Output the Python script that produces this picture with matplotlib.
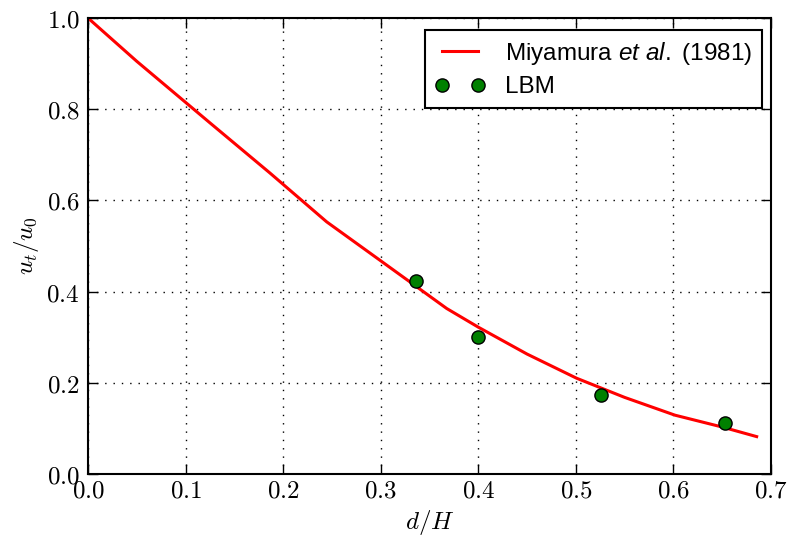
import matplotlib
matplotlib.use('Agg')
import matplotlib.pyplot as plt
from matplotlib.ticker import FuncFormatter

# Miyamura et al. (1981) curve
miyamura_x = [0.0, 0.05, 0.1, 0.125, 0.1865, 0.2446, 0.301, 0.3676, 0.4, 0.45, 0.5008, 0.55, 0.6016, 0.65, 0.6853]
miyamura_y = [1.0, 0.905, 0.815, 0.77, 0.66, 0.553, 0.466, 0.363, 0.322, 0.263, 0.21, 0.168, 0.129, 0.103, 0.082]

# LBM results
lbm_x = [0.336, 0.400, 0.5254, 0.653]
lbm_y = [0.423, 0.300, 0.173, 0.112]

plt.rcParams['font.family'] = ['Liberation Sans', 'DejaVu Sans']
plt.rcParams['mathtext.fontset'] = 'cm'
plt.rcParams['mathtext.rm'] = 'Liberation Sans'
plt.rcParams['mathtext.it'] = 'Liberation Sans:italic'

fig = plt.figure(figsize=(7.94, 5.42), dpi=100)
ax = fig.add_axes([88 / 794, 1 - 474 / 542, 683 / 794, 456 / 542])

ax.plot(miyamura_x, miyamura_y, color='red', lw=2.2, label=r'Miyamura $\mathit{et\ al.}$ (1981)')
ax.plot(lbm_x, lbm_y, 'o', color='green', mec='black', mew=1.0, ms=9.5, label='LBM')

ax.set_xlim(0, 0.7)
ax.set_ylim(0, 1.0)
ax.set_xticks([0.0, 0.1, 0.2, 0.3, 0.4, 0.5, 0.6, 0.7])
ax.set_yticks([0.0, 0.2, 0.4, 0.6, 0.8, 1.0])
fmt = FuncFormatter(lambda v, p: r'$%.1f$' % v)
ax.xaxis.set_major_formatter(fmt)
ax.yaxis.set_major_formatter(fmt)
ax.tick_params(direction='in', length=7, width=1, top=True, right=True, labelsize=18)
ax.tick_params(axis='x', pad=3)
ax.tick_params(axis='y', pad=6)
ax.grid(True, color='black', linestyle=(0, (1, 5)), linewidth=1)
for s in ax.spines.values():
    s.set_linewidth(1.5)

ax.set_xlabel(r'$d/H$', fontsize=18, labelpad=4)
ax.set_ylabel(r'$u_t/u_0$', fontsize=18, labelpad=4)

leg = ax.legend(loc='upper right', bbox_to_anchor=((762 - 88) / 683, (474 - 30) / 456),
                borderaxespad=0, fontsize=17.5, numpoints=2, handlelength=2.1,
                handletextpad=0.8, labelspacing=0.4, fancybox=False, framealpha=1)
leg.get_frame().set_edgecolor('black')
leg.get_frame().set_linewidth(1.5)
for t in leg.get_texts():
    t.set_math_fontfamily('custom')

fig.savefig('out.png', dpi=100)
